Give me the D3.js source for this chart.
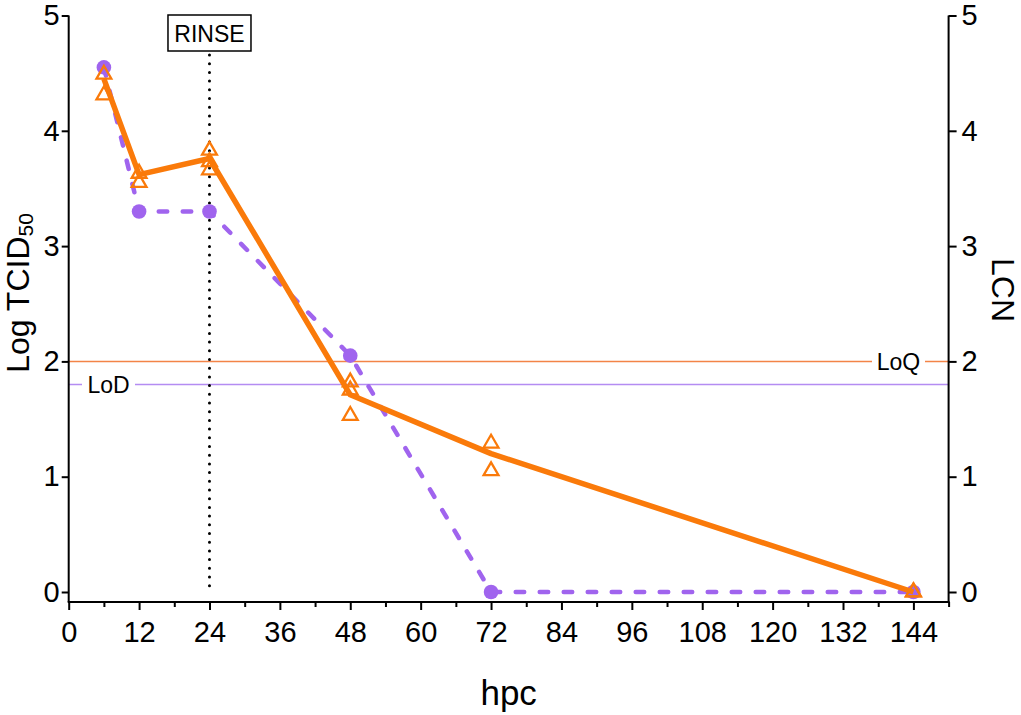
<!DOCTYPE html>
<html><head><meta charset="utf-8">
<script src="https://cdn.jsdelivr.net/npm/d3@7"></script>
<style>body{margin:0;background:#fff}svg{display:block;font-family:"Liberation Sans",Arial,sans-serif}</style>
</head><body><svg id="c" width="1021" height="715"></svg>
<script>
// ---- data ----
const hpc = [6, 12, 24, 48, 72, 144];
const tcid50 = [4.55, 3.3, 3.3, 2.05, 0, 0];           // Log TCID50 (left axis)
const lcnMean = [4.45, 3.62, 3.76, 1.71, 1.2, 0];      // LCN mean line (right axis)
const lcnRepX = [6, 6, 12, 12, 24, 24, 24, 48, 48, 48, 72, 72, 144, 144];
const lcnRepY = [4.49, 4.31, 3.63, 3.55, 3.83, 3.73, 3.66, 1.82, 1.75, 1.53, 1.29, 1.05, 0, 0];
const xTicks = [0, 12, 24, 36, 48, 60, 72, 84, 96, 108, 120, 132, 144];
const xMinor = [6, 18, 30, 42, 54, 66, 78, 90, 102, 114, 126, 138, 150];
const yTicks = [0, 1, 2, 3, 4, 5];
const LOQ = 2, LOD = 1.8, RINSE = 24;

const orange = "#FA7A0A", purple = "#A064EE";
const svg = d3.select("#c");
const x = d3.scaleLinear().domain([0, 150]).range([68.7, 948.6]);
const yL = d3.scaleLinear().domain([0, 5]).range([592, 15.5]);
const yR = d3.scaleLinear().domain([0, 5]).range([592, 15.5]);
const axisY = 602;

// reference lines
svg.append("line").attr("x1", x(0)).attr("x2", x(150)).attr("y1", yL(LOQ)).attr("y2", yL(LOQ))
  .attr("stroke", "#F38447").attr("stroke-width", 1.5);
svg.append("line").attr("x1", x(0)).attr("x2", x(150)).attr("y1", yL(LOD)).attr("y2", yL(LOD))
  .attr("stroke", "#B48CF2").attr("stroke-width", 1.5);
function refLabel(txt, cx, cy, w) {
  svg.append("rect").attr("x", cx - w / 2).attr("y", cy - 11).attr("width", w).attr("height", 22).attr("fill", "#fff");
  svg.append("text").attr("x", cx).attr("y", cy).attr("dy", "0.36em").attr("text-anchor", "middle")
    .attr("font-size", 23).attr("fill", "#000").text(txt);
}
refLabel("LoD", 108.5, yL(LOD), 53);
refLabel("LoQ", 898.5, yL(LOQ), 53);

// rinse line
svg.append("line").attr("x1", x(RINSE)).attr("x2", x(RINSE)).attr("y1", 55).attr("y2", yL(0))
  .attr("stroke", "#000").attr("stroke-width", 3).attr("stroke-linecap", "round").attr("stroke-dasharray", "0,8.7");
svg.append("rect").attr("x", x(RINSE) - 41.5).attr("y", 15).attr("width", 83).attr("height", 36)
  .attr("fill", "#fff").attr("stroke", "#000").attr("stroke-width", 1.5);
svg.append("text").attr("x", x(RINSE)).attr("y", 41.5).attr("text-anchor", "middle").attr("font-size", 23).text("RINSE");

// purple series
const lineL = d3.line().x(d => x(d[0])).y(d => yL(d[1]));
const pData = hpc.map((h, i) => [h, tcid50[i]]);
svg.append("path").attr("d", lineL(pData)).attr("fill", "none").attr("stroke", purple)
  .attr("stroke-width", 4.5).attr("stroke-linecap", "round").attr("stroke-dasharray", "8.5,15.5");
svg.selectAll(".pc").data(pData).join("circle").attr("cx", d => x(d[0])).attr("cy", d => yL(d[1]))
  .attr("r", 7.3).attr("fill", purple);

// orange series
const lineR = d3.line().x(d => x(d[0])).y(d => yR(d[1]));
const oData = hpc.map((h, i) => [h, lcnMean[i]]);
svg.append("path").attr("d", lineR(oData)).attr("fill", "none").attr("stroke", orange)
  .attr("stroke-width", 5.5).attr("stroke-linejoin", "round");
const tri = d3.symbol().type(d3.symbolTriangle).size(95);
svg.selectAll(".tr").data(lcnRepX.map((h, i) => [h, lcnRepY[i]])).join("path")
  .attr("d", tri).attr("transform", d => `translate(${x(d[0])},${yR(d[1])})`)
  .attr("fill", "none").attr("stroke", orange).attr("stroke-width", 2.3);

// axes
const ax = svg.append("g").attr("stroke", "#000").attr("stroke-width", 2);
ax.append("line").attr("x1", x(0)).attr("x2", x(150)).attr("y1", axisY).attr("y2", axisY).attr("stroke-linecap", "square");
ax.append("line").attr("x1", x(0)).attr("x2", x(0)).attr("y1", yL(5)).attr("y2", axisY);
ax.append("line").attr("x1", x(150)).attr("x2", x(150)).attr("y1", yR(5)).attr("y2", axisY);

const gx = svg.append("g").attr("transform", `translate(0,${axisY})`)
  .call(d3.axisBottom(x).tickValues(xTicks).tickSize(8).tickPadding(11).tickFormat(d3.format("d")));
const gxm = svg.append("g").attr("transform", `translate(0,${axisY})`)
  .call(d3.axisBottom(x).tickValues(xMinor).tickSize(5).tickFormat(""));
const gl = svg.append("g").attr("transform", `translate(${x(0)},0)`)
  .call(d3.axisLeft(yL).tickValues(yTicks).tickSize(7).tickPadding(2).tickFormat(d3.format("d")));
const gr = svg.append("g").attr("transform", `translate(${x(150)},0)`)
  .call(d3.axisRight(yR).tickValues(yTicks).tickSize(8).tickPadding(5).tickFormat(d3.format("d")));
[gx, gxm, gl, gr].forEach(g => {
  g.select(".domain").remove();
  g.selectAll("line").attr("stroke", "#000").attr("stroke-width", 2);
  g.selectAll("text").attr("font-size", 29).attr("fill", "#000").attr("font-family", '"Liberation Sans",Arial,sans-serif');
});

// titles
svg.append("text").attr("x", x(75)).attr("y", 705).attr("text-anchor", "middle").attr("font-size", 35).text("hpc");
const yt = svg.append("text").attr("transform", "translate(29,293) rotate(-90)").attr("text-anchor", "middle").attr("font-size", 32);
yt.append("tspan").text("Log TCID");
yt.append("tspan").attr("font-size", 21).attr("dy", 4).text("50");
svg.append("text").attr("transform", "translate(992,290) rotate(90)").attr("text-anchor", "middle").attr("font-size", 32).text("LCN");
</script></body></html>
